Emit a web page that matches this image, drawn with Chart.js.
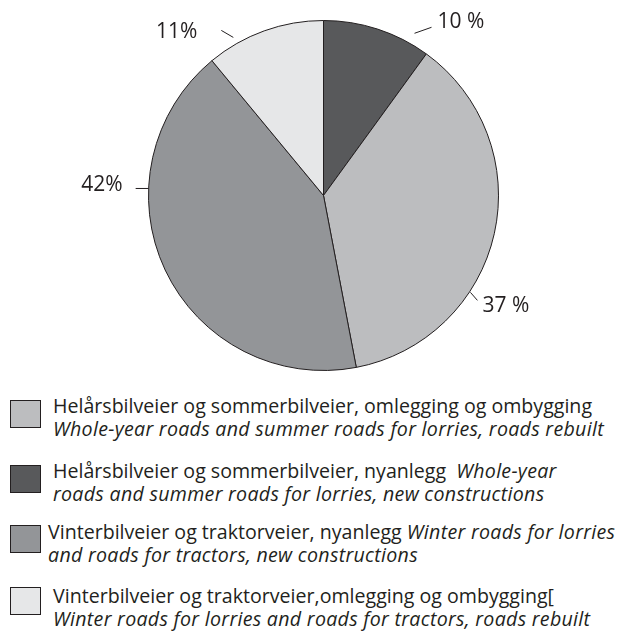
<!DOCTYPE html>
<html>
<head>
<meta charset="utf-8">
<script src="https://cdn.jsdelivr.net/npm/chart.js@4"></script>
<style>
    body { margin: 0; background: #fff; width: 620px; height: 635px; position: relative; overflow: hidden; }
    #wrap { position: absolute; left: 0; top: 0; width: 620px; height: 390px; }
    .legend-item { position: absolute; left: 0; font-family: "Open Sans", "Noto Sans", sans-serif; font-size: 19.6px; line-height: 23px; color: #231f20; }
    .legend-item .box { position: absolute; left: 10px; width: 29px; height: 26px; border: 1.5px solid #231f20; }
    .legend-item .txt { position: absolute; white-space: nowrap; }
    .legend-item i { font-style: italic; letter-spacing: 0.3px; }
</style>
</head>
<body>
<div id="wrap"><canvas id="my-chart"></canvas></div>
<div id="legend"></div>
<script>
// Andel av veglengde etter vegtype (prosent)
const categories = [
    "Helårsbilveier og sommerbilveier, nyanlegg",
    "Helårsbilveier og sommerbilveier, omlegging og ombygging",
    "Vinterbilveier og traktorveier, nyanlegg",
    "Vinterbilveier og traktorveier,omlegging og ombygging"
];
const values = [10, 37, 42, 11];
const valueLabels = ["10 %", "37 %", "42%", "11%"];
const colors = ["#58595b", "#bcbdbf", "#939598", "#e6e7e8"];

// etiketter: startpunkt (vinkel fra toppen, radius), strek (lx, ly), tekstforskyvning (tx, ty)
const labelPlacement = [
    { angle: 29.3, r: 186, lx: 17, ly: -6, tx: 6, ty: -5, align: "left" },
    { angle: 123.4, r: 176, lx: 7, ly: 8, tx: 5, ty: 6, align: "left" },
    { angle: 272.3, r: 175, lx: -13, ly: 0, tx: -13, ty: -3, align: "right" },
    { angle: 330.3, r: 182, lx: -12, ly: -7, tx: -24, ty: 2, align: "right" }
];

const leaderLabels = {
    id: "leaderLabels",
    afterDatasetsDraw(chart) {
        const ctx = chart.ctx;
        const arc = chart.getDatasetMeta(0).data[0];
        const cx = arc.x, cy = arc.y;
        ctx.save();
        ctx.strokeStyle = "#231f20";
        ctx.lineWidth = 1;
        ctx.fillStyle = "#231f20";
        ctx.font = "21px 'Open Sans', 'Noto Sans', sans-serif";
        ctx.textBaseline = "middle";
        valueLabels.forEach((text, i) => {
            const p = labelPlacement[i];
            const a = p.angle * Math.PI / 180;
            const x1 = cx + p.r * Math.sin(a), y1 = cy - p.r * Math.cos(a);
            const x2 = x1 + p.lx, y2 = y1 + p.ly;
            ctx.beginPath();
            ctx.moveTo(x1, y1);
            ctx.lineTo(x2, y2);
            ctx.stroke();
            ctx.textAlign = p.align;
            ctx.fillText(text, x2 + p.tx, y2 + p.ty);
        });
        ctx.restore();
    }
};

const myChart = document.getElementById("my-chart");

new Chart(myChart, {
    type: "pie",
    data: {
        labels: categories,
        datasets: [
            {
                data: values,
                backgroundColor: colors,
                borderColor: "#231f20",
                borderWidth: 1
            }
        ]
    },
    options: {
        responsive: true,
        maintainAspectRatio: false,
        animation: false,
        layout: { padding: { top: 20, bottom: 19, left: 148, right: 121 } },
        plugins: {
            legend: { display: false },
            tooltip: { enabled: false }
        }
    },
    plugins: [leaderLabels]
});

// Forklaring (legend) med norsk og engelsk tekst
const legendItems = [
    { color: colors[1], top: 400, textLeft: 53, textTop: 394,
      html: "Helårsbilveier og sommerbilveier, omlegging og ombygging<br><i>Whole-year roads and summer roads for lorries, roads rebuilt</i>" },
    { color: colors[0], top: 465, textLeft: 53, textTop: 459,
      html: "Helårsbilveier og sommerbilveier, nyanlegg&nbsp; <i>Whole-year</i><br><i>roads and summer roads for lorries, new constructions</i>" },
    { color: colors[2], top: 525, textLeft: 48, textTop: 520,
      html: "Vinterbilveier og traktorveier, nyanlegg <i>Winter roads for lorries</i><br><i>and roads for tractors, new constructions</i>" },
    { color: colors[3], top: 587, textLeft: 53, textTop: 584,
      html: "Vinterbilveier og traktorveier,omlegging og ombygging[<br><i>Winter roads for lorries and roads for tractors, roads rebuilt</i>" }
];

const legendEl = document.getElementById("legend");
legendItems.forEach(item => {
    const div = document.createElement("div");
    div.className = "legend-item";
    div.innerHTML = `<div class="box" style="top:${item.top}px;background:${item.color}"></div>` +
        `<div class="txt" style="left:${item.textLeft}px;top:${item.textTop}px">${item.html}</div>`;
    legendEl.appendChild(div);
});
</script>
</body>
</html>
